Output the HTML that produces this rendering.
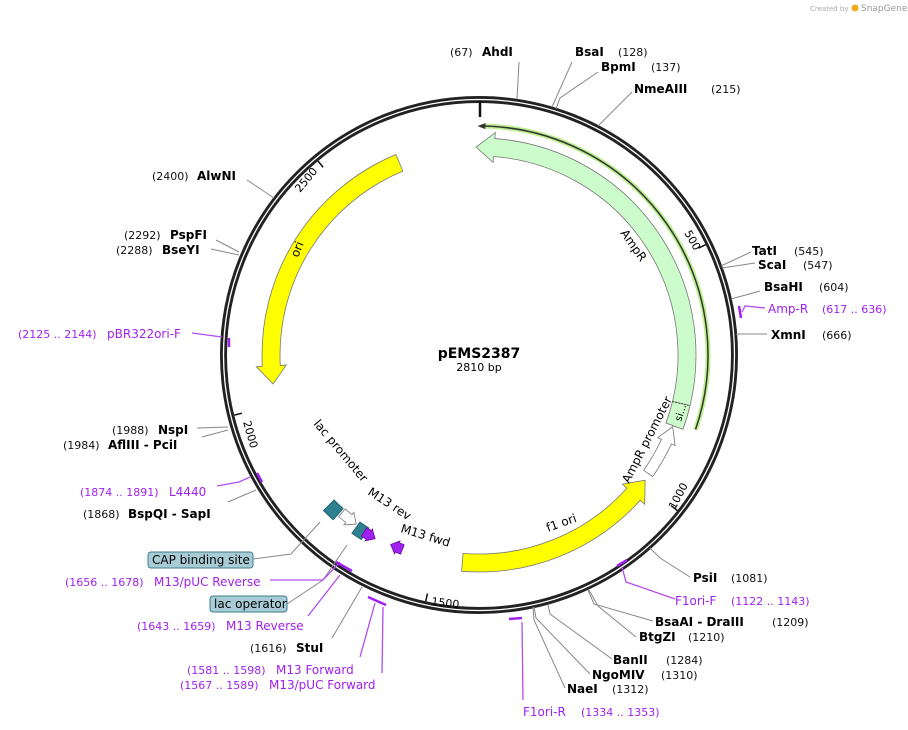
<!DOCTYPE html>
<html><head><meta charset="utf-8"><style>
body{margin:0;background:#fff;}
svg{display:block;font-family:"DejaVu Sans","Liberation Sans",sans-serif;}
.n{font-size:11px;fill:#111;}
.b{font-size:12px;font-weight:bold;fill:#000;}
.p{font-size:12px;fill:#a020f0;}
.pn{font-size:11px;fill:#a020f0;}
.f{font-size:12px;fill:#000;}
.ln{stroke:#888;stroke-width:1;fill:none;}
.pl{stroke:#b44cf0;stroke-width:1.3;fill:none;}
</style></head><body>
<svg id="s" width="908" height="730" viewBox="0 0 908 730" xmlns="http://www.w3.org/2000/svg">
<text x="810" y="11" style="font-size:7px;fill:#aaa">Created by</text>
<circle cx="855" cy="8" r="3.5" fill="#f5a623"/>
<text x="861" y="11" style="font-size:9px;fill:#999">SnapGene</text>

<g id="shapes"></g>

<circle cx="479" cy="355" r="255.5" fill="none" stroke="#222" stroke-width="7"/>
<circle cx="479" cy="355" r="255.5" fill="none" stroke="#fff" stroke-width="1.3"/>
<line x1="480" y1="101" x2="480" y2="117" stroke="#111" stroke-width="2.5"/>

<text x="479" y="358" text-anchor="middle" style="font-size:14px;font-weight:bold">pEMS2387</text>
<text x="479" y="371" text-anchor="middle" style="font-size:11px">2810 bp</text>

<!-- feature labels -->
<text class="f" transform="translate(620,233) rotate(55)">AmpR</text>
<text class="f" transform="translate(629,484) rotate(-63)">AmpR promoter</text>
<text class="f" transform="translate(298,258) rotate(-68)">ori</text>
<text class="f" transform="translate(548,532) rotate(-20)">f1 ori</text>
<text class="f" transform="translate(313,424) rotate(50)">lac promoter</text>
<text class="f" transform="translate(367,494) rotate(33)">M13 rev</text>
<text class="f" transform="translate(400,532) rotate(17)">M13 fwd</text>
<text style="font-size:10px" transform="translate(681,422) rotate(-72)">si...</text>
<!-- tick labels -->
<text style="font-size:11px" transform="translate(684,233) rotate(60)">500</text>
<text style="font-size:11px" transform="translate(675,510) rotate(-62)">1000</text>
<text style="font-size:11px" transform="translate(431,605) rotate(7)">1500</text>
<text style="font-size:11px" transform="translate(243,422) rotate(74)">2000</text>
<text style="font-size:11px" transform="translate(300,193) rotate(-50)">2500</text>

<!-- connector lines -->
<g class="ln">
<polyline points="517,99 519,62"/>
<polyline points="552,107 572,62"/>
<polyline points="556,109 560,98 598,72"/>
<polyline points="598,126 632,92"/>
<polyline points="721,266 751,252"/>
<polyline points="722,268 755,263"/>
<polyline points="731,299 760,291"/>
<polyline points="736,334 767,334"/>
<polyline points="650,548 660,558 690,577"/>
<polyline points="588,590 594,604 653,621"/>
<polyline points="589,590 598,606 636,637"/>
<polyline points="548,605 550,614 612,659"/>
<polyline points="534,607 536,618 590,674"/>
<polyline points="533,607 534,620 565,688"/>
<polyline points="362,587 332,638"/>
<polyline points="274,198 247,180"/>
<polyline points="239,252 216,240"/>
<polyline points="239,255 211,249"/>
<polyline points="228,427 197,428"/>
<polyline points="228,430 202,437"/>
<polyline points="256,490 228,502"/>
<polyline points="253,559 291,554 320,522"/>
<polyline points="287,604 323,580 347,545"/>
</g>
<g class="pl">
<polyline points="742,312 745,306 765,308"/>
<polyline points="622,567 626,582 675,599"/>
<polyline points="522,622 523,700"/>
<polyline points="375,603 360,657"/>
<polyline points="383,607 382,673"/>
<polyline points="270,580 323,580 340,562"/>
<polyline points="308,616 340,575"/>
<polyline points="192,333 222,337"/>
<polyline points="217,486 239,482 250,477"/>
</g>
<g stroke="#a020f0" stroke-width="2.5" fill="none">
<line x1="739" y1="306" x2="741" y2="318"/>
<line x1="617" y1="566" x2="627" y2="560"/>
<line x1="509" y1="619" x2="522" y2="618"/>
<line x1="368" y1="597" x2="386" y2="605"/>
<line x1="336" y1="562" x2="352" y2="571"/>
<line x1="229" y1="338" x2="229" y2="347"/>
<line x1="257" y1="473" x2="262" y2="482"/>
</g>

<!-- site labels -->
<text class="n" x="450" y="56">(67)</text><text class="b" x="482" y="56">AhdI</text>
<text class="b" x="575" y="56">BsaI</text><text class="n" x="618" y="56">(128)</text>
<text class="b" x="601" y="71">BpmI</text><text class="n" x="651" y="71">(137)</text>
<text class="b" x="634" y="93">NmeAIII</text><text class="n" x="711" y="93">(215)</text>
<text class="b" x="752" y="255">TatI</text><text class="n" x="794" y="255">(545)</text>
<text class="b" x="758" y="269">ScaI</text><text class="n" x="803" y="269">(547)</text>
<text class="b" x="764" y="291">BsaHI</text><text class="n" x="819" y="291">(604)</text>
<text class="p" x="768" y="313">Amp-R</text><text class="pn" x="822" y="313">(617 .. 636)</text>
<text class="b" x="771" y="339">XmnI</text><text class="n" x="822" y="339">(666)</text>
<text class="b" x="693" y="582">PsiI</text><text class="n" x="731" y="582">(1081)</text>
<text class="p" x="675" y="605">F1ori-F</text><text class="pn" x="731" y="605">(1122 .. 1143)</text>
<text class="b" x="655" y="626">BsaAI  - DraIII</text><text class="n" x="772" y="626">(1209)</text>
<text class="b" x="639" y="641">BtgZI</text><text class="n" x="688" y="641">(1210)</text>
<text class="b" x="613" y="664">BanII</text><text class="n" x="666" y="664">(1284)</text>
<text class="b" x="592" y="679">NgoMIV</text><text class="n" x="661" y="679">(1310)</text>
<text class="b" x="567" y="693">NaeI</text><text class="n" x="612" y="693">(1312)</text>
<text class="p" x="523" y="716">F1ori-R</text><text class="pn" x="581" y="716">(1334 .. 1353)</text>
<text class="pn" x="180" y="689">(1567 .. 1589)</text><text class="p" x="269" y="689">M13/pUC Forward</text>
<text class="pn" x="187" y="674">(1581 .. 1598)</text><text class="p" x="276" y="674">M13 Forward</text>
<text class="n" x="250" y="652">(1616)</text><text class="b" x="296" y="652">StuI</text>
<text class="pn" x="137" y="630">(1643 .. 1659)</text><text class="p" x="226" y="630">M13 Reverse</text>
<text class="pn" x="65" y="586">(1656 .. 1678)</text><text class="p" x="154" y="586">M13/pUC Reverse</text>
<rect x="210" y="596" width="77" height="16" rx="3" fill="#a8ccd6" stroke="#3a7f8c"/>
<text class="f" x="214" y="608">lac operator</text>
<rect x="148" y="552" width="105" height="16" rx="3" fill="#a8ccd6" stroke="#3a7f8c"/>
<text class="f" x="152" y="564">CAP binding site</text>
<text class="n" x="83" y="518">(1868)</text><text class="b" x="128" y="518">BspQI  - SapI</text>
<text class="pn" x="80" y="496">(1874 .. 1891)</text><text class="p" x="169" y="496">L4440</text>
<text class="n" x="63" y="449">(1984)</text><text class="b" x="108" y="449">AflIII  - PciI</text>
<text class="n" x="112" y="434">(1988)</text><text class="b" x="158" y="434">NspI</text>
<text class="pn" x="18" y="338">(2125 .. 2144)</text><text class="p" x="107" y="338">pBR322ori-F</text>
<text class="n" x="116" y="254">(2288)</text><text class="b" x="162" y="254">BseYI</text>
<text class="n" x="124" y="239">(2292)</text><text class="b" x="170" y="239">PspFI</text>
<text class="n" x="152" y="180">(2400)</text><text class="b" x="197" y="180">AlwNI</text>
</svg>
<script>
(function(){
var cx=479,cy=355,NS="http://www.w3.org/2000/svg",g=document.getElementById("shapes");
function P(a,r){var t=a*Math.PI/180;return [(cx+r*Math.sin(t)).toFixed(2),(cy-r*Math.cos(t)).toFixed(2)];}
function A(a1,a2,r){var p=P(a2,r),l=Math.abs(a2-a1)>180?1:0,s=a2>a1?1:0;return " A"+r+","+r+" 0 "+l+","+s+" "+p[0]+","+p[1];}
function add(tag,at){var e=document.createElementNS(NS,tag);for(var k in at)e.setAttribute(k,at[k]);g.appendChild(e);return e;}
function L(a,r){var p=P(a,r);return " L"+p[0]+","+p[1];}
function M(a,r){var p=P(a,r);return "M"+p[0]+","+p[1];}
// feature: tip at 'tip' angle, body to 'end'
function feat(tip,end,r1,r2,head,hw,fill,stroke){
 var m=(r1+r2)/2,d;
 if(tip<end){var b=tip+head;
  d=M(b,r2)+A(b,end,r2)+L(end,r1)+A(end,b,r1)+L(b,r1-hw)+L(tip,m)+L(b,r2+hw)+"Z";}
 else{var b=tip-head;
  d=M(end,r2)+A(end,b,r2)+L(b,r2+hw)+L(tip,m)+L(b,r1-hw)+L(b,r1)+A(b,end,r1)+"Z";}
 add("path",{d:d,fill:fill,stroke:stroke||"#777","stroke-width":0.8});
}
function box(a1,a2,r1,r2,fill,stroke){
 add("path",{d:M(a1,r2)+A(a1,a2,r2)+L(a2,r1)+A(a2,a1,r1)+"Z",fill:fill,stroke:stroke,"stroke-width":0.8});
}
// green primer-like line
add("path",{d:M(1.2,229)+A(1.2,109,229),fill:"none",stroke:"#bdf08f","stroke-width":5});
add("path",{d:M(1.2,229)+A(1.2,109,229),fill:"none",stroke:"#333","stroke-width":1.5});
var t=P(-0.4,229),u=P(1.6,226),v=P(1.6,232);
add("path",{d:"M"+t+" L"+u+" L"+v+"Z",fill:"#333"});
// AmpR
feat(-0.8,110,199,217,5,6,"#ccfccc","#777");
box(103.5,110,199,217,"#ccfccc","#777");
var a=P(103.5,199),b=P(103.5,217);
add("line",{x1:a[0],y1:a[1],x2:b[0],y2:b[1],stroke:"#333","stroke-dasharray":"1.5,1.5"});
// AmpR promoter
feat(110.3,125,201,212,4.5,4,"#fff","#777");
// ori
feat(262,337.5,199,217,5,6,"#ffff00","#777");
// f1 ori
feat(127,184.6,199,217,5,6,"#ffff00","#777");
// lac region
box(221.5,225,205,220,"#2e7f90","#1e5f6c");
feat(216,221,204,214,2.5,3,"#fff","#777");
box(212.5,215.5,205,219,"#2e7f90","#1e5f6c");
feat(209.5,213,206,216,2,2,"#a020f0","#6a0aa0");
feat(205,201.5,204,214,2,2,"#a020f0","#6a0aa0");
// ticks
[64.05,128.1,192.2,256.2,320.3].forEach(function(ang){var p1=P(ang,252),p2=P(ang,244);
 add("line",{x1:p1[0],y1:p1[1],x2:p2[0],y2:p2[1],stroke:"#111","stroke-width":1.5});});
})();
</script>
</body></html>
